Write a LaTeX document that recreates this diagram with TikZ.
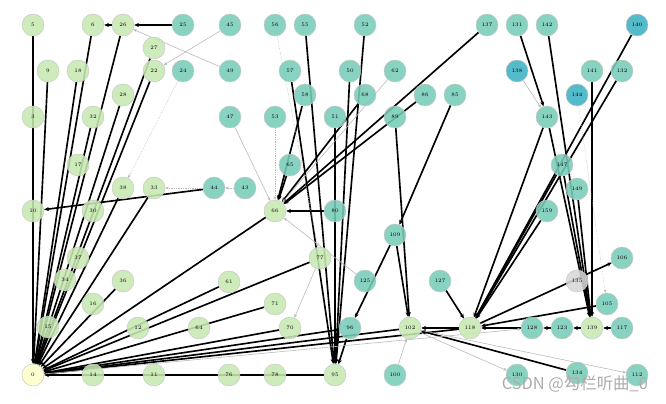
\documentclass[tikz,border=0pt]{standalone}
\usepackage{fontspec}
\newfontfamily\cjkfont{Noto Sans CJK SC}
\usetikzlibrary{arrows.meta}
\usetikzlibrary{backgrounds}
\definecolor{lgreen}{RGB}{199,233,178}
\definecolor{teal}{RGB}{120,204,186}
\definecolor{blue}{RGB}{60,178,196}
\definecolor{yel}{RGB}{255,255,200}
\definecolor{gry}{RGB}{215,215,215}

\begin{document}
\begin{tikzpicture}[x=0.03cm,y=-0.03cm,
  vtx/.style={circle, minimum size=0.66cm, inner sep=0pt, draw=gray!45,
    line width=0.4pt, fill opacity=0.88, text opacity=1,
    font=\fontsize{4.5}{5}\selectfont},
  gn/.style={vtx, fill=lgreen},
  tn/.style={vtx, fill=teal},
  bn/.style={vtx, fill=blue},
  dep/.style={black, line width=1.4pt, -{Stealth[length=4pt,width=3.5pt]}},
  weak/.style={gray!55, line width=0.5pt, -{Stealth[length=3pt,width=2.5pt]}},
  weakd/.style={weak, densely dotted}]

\useasboundingbox (0,0) rectangle (666,404);

%---------------------------------------
% Nodes, row by row
%---------------------------------------
\node[gn] (n5) at (33,25) {5};
\node[gn] (n6) at (93,25) {6};
\node[gn] (n26) at (123,25) {26};
\node[tn] (n25) at (183,25) {25};
\node[tn] (n45) at (230,25) {45};
\node[tn] (n56) at (275,25) {56};
\node[tn] (n55) at (305,25) {55};
\node[tn] (n52) at (365,25) {52};
\node[tn] (n137) at (487,25) {137};
\node[tn] (n131) at (517,25) {131};
\node[tn] (n142) at (547,25) {142};
\node[bn] (n140) at (637,25) {140};

\node[gn] (n27) at (154,48) {27};

\node[gn] (n9) at (48,71) {9};
\node[gn] (n18) at (78,71) {18};
\node[gn] (n22) at (154,71) {22};
\node[tn] (n24) at (183,71) {24};
\node[tn] (n49) at (230,71) {49};
\node[tn] (n57) at (290,71) {57};
\node[tn] (n50) at (350,71) {50};
\node[tn] (n62) at (395,71) {62};
\node[bn] (n138) at (517,71) {138};
\node[tn] (n141) at (592,71) {141};
\node[tn] (n132) at (622,71) {132};

\node[gn] (n28) at (123,95) {28};
\node[tn] (n58) at (305,95) {58};
\node[tn] (n68) at (365,95) {68};
\node[tn] (n86) at (425,95) {86};
\node[tn] (n85) at (455,95) {85};
\node[bn] (n144) at (577,95) {144};

\node[gn] (n3) at (33,117) {3};
\node[gn] (n32) at (93,117) {32};
\node[tn] (n47) at (230,117) {47};
\node[tn] (n53) at (275,117) {53};
\node[tn] (n51) at (335,117) {51};
\node[tn] (n89) at (395,117) {89};
\node[tn] (n143) at (547,117) {143};

\node[gn] (n17) at (78,165) {17};
\node[tn] (n65) at (290,165) {65};
\node[tn] (n147) at (562,165) {147};

\node[gn] (n38) at (123,188) {38};
\node[gn] (n33) at (154,188) {33};
\node[tn] (n44) at (214,188) {44};
\node[tn] (n43) at (245,188) {43};
\node[tn] (n149) at (577,189) {149};

\node[gn] (n10) at (33,211) {10};
\node[gn] (n30) at (93,211) {30};
\node[gn] (n66) at (275,211) {66};
\node[tn] (n80) at (335,211) {80};
\node[tn] (n159) at (547,211) {159};

\node[tn] (n109) at (395,235) {109};

\node[gn] (n37) at (78,258) {37};
\node[gn] (n77) at (320,258) {77};
\node[tn] (n106) at (622,258) {106};

\node[gn] (n34) at (65,280) {34};
\node[gn] (n36) at (123,281) {36};
\node[gn] (n61) at (229,282) {61};
\node[tn] (n125) at (365,281) {125};
\node[tn] (n127) at (440,281) {127};
\node[vtx, fill=gry] (n135) at (577,281) {135};

\node[gn] (n16) at (93,304) {16};
\node[gn] (n71) at (275,304) {71};
\node[tn] (n105) at (607,304) {105};

\node[gn] (n15) at (48,327) {15};
\node[gn] (n12) at (138,328) {12};
\node[gn] (n64) at (199,328) {64};
\node[gn] (n70) at (290,328) {70};
\node[tn] (n96) at (350,328) {96};
\node[gn] (n102) at (410,328) {102};
\node[gn] (n118) at (470,328) {118};
\node[tn] (n128) at (532,328) {128};
\node[tn] (n123) at (562,328) {123};
\node[gn] (n139) at (592,328) {139};
\node[tn] (n117) at (622,328) {117};

\node[vtx, fill=yel] (n0) at (33,375) {0};
\node[gn] (n14) at (93,375) {14};
\node[gn] (n11) at (154,375) {11};
\node[gn] (n76) at (229,375) {76};
\node[gn] (n78) at (275,375) {78};
\node[gn] (n95) at (335,375) {95};
\node[tn] (n100) at (395,375) {100};
\node[tn] (n130) at (517,375) {130};
\node[tn] (n134) at (577,373) {134};
\node[tn] (n112) at (637,375) {112};

%---------------------------------------
% Edges (behind the nodes)
%---------------------------------------
\begin{scope}[on background layer]
  % everything that runs into node 0
  \foreach \s in {5,9,18,6,26,27,22,28,32,33,38,36,61,71,77,66,70,96,102,118,95}
    \draw[dep] (n\s) -- (n0);

  \draw[dep] (n25) -- (n26);
  \draw[dep] (n26) -- (n6);
  \draw[dep] (n44) -- (n10);

  % into 66 and 95
  \foreach \s in {65,80,58,68,86,137}
    \draw[dep] (n\s) -- (n66);
  \foreach \s in {55,52,57,50,51,96}
    \draw[dep] (n\s) -- (n95);

  \draw[dep] (n85) -- (n109);
  \draw[dep] (n109) -- (n96);
  \draw[dep] (n109) -- (n102);
  \draw[dep] (n89) -- (n102);
  \draw[dep] (n118) -- (n102);
  \draw[dep] (n134) -- (n102);

  % right hand cluster
  \foreach \s in {127,105,140,132,143,147,159,128}
    \draw[dep] (n\s) -- (n118);
  \draw[dep] (n118) -- (n106);
  \draw[dep] (n131) -- (n143);
  \foreach \s in {142,141,143,147,149,117}
    \draw[dep] (n\s) -- (n139);
  \draw[dep] (n123) -- (n128);
  \draw[dep] (n139) -- (n123);

  % light links
  \draw[weak] (n45) -- (n22);
  \draw[weak] (n49) -- (n26);
  \draw[weakd] (n24) -- (n38);
  \draw[weakd] (n44) -- (n33);
  \draw[weakd] (n43) -- (n44);
  \draw[weak] (n47) -- (n66);
  \draw[weakd] (n53) -- (n66);
  \draw[weak] (n62) -- (n66);
  \draw[weak] (n125) -- (n66);
  \draw[weakd] (n56) -- (n77);
  \draw[weak] (n77) -- (n70);
  \draw[weak] (n138) -- (n143);
  \draw[weakd] (n144) -- (n105);
  \draw[weak] (n100) -- (n102);
  \draw[weak] (n102) -- (n130);
  \draw[weak] (n102) -- (n112);
  \draw[weak] (n0) -- (n128);
\end{scope}

\node[text=gray!65, font=\cjkfont\fontsize{14}{14}\selectfont, anchor=east] (wm) at (652,384)
  {CSDN @勾栏听曲\_0};

\end{tikzpicture}
\end{document}
